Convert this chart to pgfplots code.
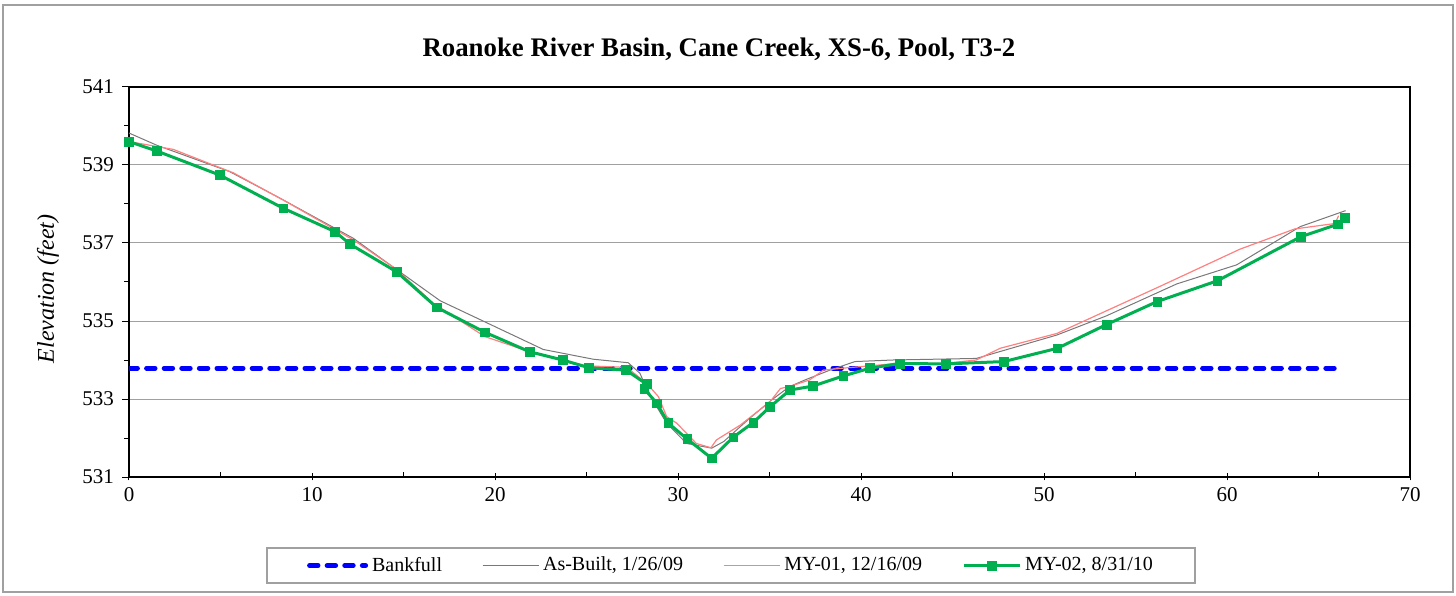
\documentclass[border=0pt]{standalone}
\usepackage{fontspec}
\setmainfont{Liberation Serif}
\usepackage{pgfplots}
\pgfplotsset{compat=1.18}

\definecolor{bankblue}{RGB}{0,0,255}
\definecolor{asbuilt}{RGB}{120,120,120}
\definecolor{myone}{RGB}{255,128,128}
\definecolor{mytwo}{RGB}{0,176,80}
\definecolor{gridgray}{RGB}{160,160,160}

\begin{document}
\begin{tikzpicture}
\path[use as bounding box] (0,0) rectangle (728pt,297.5pt);
\draw[gridgray, line width=0.6pt] (1.5pt,1.5pt) rectangle (726.5pt,295pt);
% legend frame
\draw[gridgray, line width=0.6pt] (133.5pt,6pt) rectangle (597.5pt,23.5pt);

\node[font=\bfseries\fontsize{13.4}{16}\selectfont, anchor=base] at (359.5pt,269pt)
  {Roanoke River Basin, Cane Creek, XS-6, Pool, T3-2};
\node[font=\itshape\fontsize{12}{14}\selectfont, rotate=90] at (24pt,153pt) {Elevation (feet)};

\begin{axis}[
    at={(64.5pt,59pt)}, anchor=south west,
    scale only axis,
    width=640.5pt, height=195pt,
    xmin=0, xmax=70, ymin=531, ymax=541,
    xtick={0,10,...,70},
    minor xtick={5,15,...,65},
    ytick={531,533,...,541},
    minor ytick={532,534,...,540},
    tick pos=left,
    tick align=outside,
    major tick length=3.5pt,
    minor tick length=2.5pt,
    every tick/.style={black, line width=0.5pt},
    major x tick style={yshift=1.8pt},
    minor x tick style={yshift=2.5pt},
    ymajorgrids,
    grid style={gridgray, line width=0.5pt},
    axis line style={black, line width=1.2pt},
    ticklabel style={font=\fontsize{10.5}{12}\selectfont},
    /pgf/number format/assume math mode=true,
    /pgf/number format/1000 sep={},
    xticklabel style={yshift=2pt},
    yticklabel style={xshift=-0.5pt},
    legend columns=4,
    legend style={
      at={(0.4707,-0.227)}, anchor=center,
      draw=none, fill=none,
      font=\fontsize{10}{12}\selectfont,
      inner xsep=19pt, inner ysep=3pt,
      /tikz/every even column/.append style={column sep=18pt},
    },
    legend image code/.code={
      \draw[mark repeat=2,mark phase=2,#1] plot coordinates {(0pt,0pt) (14pt,0pt) (28pt,0pt)};
    },
]

\addplot[draw=bankblue, line width=2.5pt, line cap=round, dash pattern=on 4.2pt off 4.6pt] coordinates {
  (0,533.79) (66.2,533.79)
};
\addlegendentry{Bankfull}

\addplot[draw=asbuilt, line width=0.5pt] coordinates {
  (0,539.82) (1.5,539.51) (5.5,538.83) (8.25,538.15) (12.26,537.12)
  (14.8,536.26) (17.0,535.52) (22.64,534.27) (25.37,534.02) (27.28,533.93)
  (27.92,533.66) (28.2,533.36) (28.84,532.80) (29.38,532.38) (30.47,531.86)
  (31.84,531.74) (32.5,531.91) (33.9,532.50) (35.1,532.97) (36.1,533.32)
  (37.0,533.50) (38.3,533.74) (39.67,533.96) (41.75,534.00) (46.3,534.04)
  (50.7,534.64) (53.4,535.13) (57.25,535.95) (60.53,536.44) (64.0,537.42)
  (66.48,537.83)
};
\addlegendentry{As-Built, 1/26/09}

\addplot[draw=myone, line width=0.6pt] coordinates {
  (0,539.60) (2.42,539.40) (4.6,539.00) (5.7,538.80) (8.43,538.10)
  (12.26,537.08) (14.6,536.33) (16.63,535.45) (19.45,534.60) (21.9,534.21)
  (25.0,533.85) (27.2,533.81) (28.29,533.40) (28.93,533.06) (29.38,532.55)
  (29.93,532.38) (31.0,531.86) (31.8,531.75) (32.1,531.95) (33.4,532.33)
  (35.03,532.93) (35.6,533.27) (36.1,533.32) (37.2,533.49) (37.94,533.74)
  (39.0,533.79) (41.95,533.91) (44.5,533.91) (46.3,534.00) (47.6,534.30)
  (50.7,534.68) (56.3,535.88) (60.7,536.84) (63.7,537.36) (65.9,537.50)
  (66.1,537.70)
};
\addlegendentry{MY-01, 12/16/09}

\addplot[draw=mytwo, line width=1.5pt, mark=square*, mark size=2.2pt,
         mark options={solid, fill=mytwo, draw=mytwo, line width=0.3pt}] coordinates {
  (0,539.60) (1.51,539.36) (4.97,538.74) (8.43,537.89) (11.26,537.29)
  (12.08,536.97) (14.63,536.26) (16.81,535.35) (19.45,534.71) (21.9,534.21)
  (23.7,534.00) (25.14,533.80) (27.16,533.74) (28.29,533.38) (28.16,533.26)
  (28.84,532.89) (29.47,532.38) (30.51,531.97) (31.84,531.48) (33.02,532.02)
  (34.12,532.40) (35.03,532.80) (36.12,533.23) (37.36,533.33) (39.03,533.59)
  (40.49,533.79) (42.1,533.91) (44.64,533.90) (47.81,533.96) (50.73,534.30)
  (53.42,534.91) (56.19,535.50) (59.47,536.03) (64.03,537.16) (66.05,537.48)
  (66.45,537.65)
};
\addlegendentry{MY-02, 8/31/10}

\end{axis}
\end{tikzpicture}
\end{document}
